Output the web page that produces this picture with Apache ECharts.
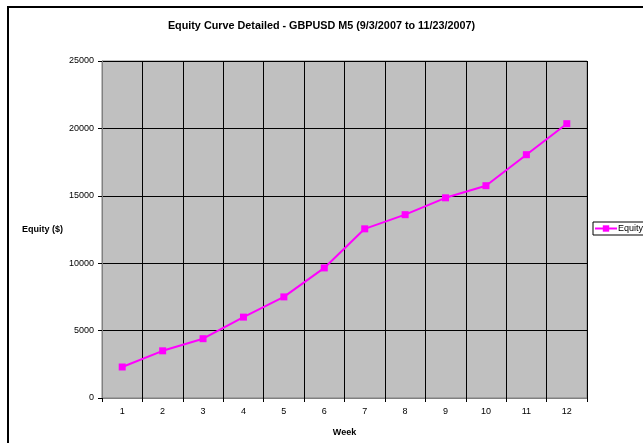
<!DOCTYPE html>
<html>
<head>
<meta charset="utf-8">
<script src="https://cdn.jsdelivr.net/npm/echarts@6/dist/echarts.min.js"></script>
<style>
  html, body { margin: 0; padding: 0; background: #fff; }
  #equityChart { width: 643px; height: 443px; }
</style>
</head>
<body>
<div id="equityChart"></div>
<script>
// weeks and equity values
const weeks = ['1', '2', '3', '4', '5', '6', '7', '8', '9', '10', '11', '12'];
const equity = [2300, 3500, 4400, 6000, 7500, 9650, 12550, 13600, 14850, 15750, 18050, 20350];
const yTicks = [0, 5000, 10000, 15000, 20000, 25000];

const chart = echarts.init(document.getElementById('equityChart'));
const font = 'Liberation Sans, Arial, sans-serif';

const option = {
    backgroundColor: '#fff',
    animation: false,
    textStyle: { fontFamily: font },
    title: {
        text: 'Equity Curve Detailed - GBPUSD M5 (9/3/2007 to 11/23/2007)',
        left: 'center',
        top: 16,
        textStyle: { fontSize: 10.8, fontWeight: 'bold', color: '#000', fontFamily: font }
    },
    graphic: [{
        type: 'rect',
        shape: { x: 8, y: 7, width: 700, height: 500 },
        style: { fill: 'none', stroke: '#000', lineWidth: 2 },
        silent: true
    }],
    legend: {
        left: 593,
        top: 222,
        orient: 'vertical',
        padding: [2, 4, 2, 1],
        itemGap: 0,
        itemWidth: 22,
        itemHeight: 8,
        backgroundColor: '#fff',
        borderColor: '#000',
        borderWidth: 1,
        borderRadius: 0,
        textStyle: { fontSize: 9, color: '#000', fontFamily: font, padding: [0, 0, 0, -4] },
        data: ['Equity']
    },
    grid: {
        left: 102,
        right: 56,
        top: 61,
        bottom: 45,
        show: true,
        backgroundColor: '#C0C0C0',
        borderColor: '#808080',
        borderWidth: 1
    },
    xAxis: {
        type: 'category',
        data: weeks,
        boundaryGap: true,
        name: 'Week',
        nameLocation: 'middle',
        nameGap: 30,
        nameTextStyle: { fontSize: 9, fontWeight: 'bold', color: '#000' },
        axisLine: { lineStyle: { color: '#808080', width: 1 } },
        axisTick: { show: true, length: 4, lineStyle: { color: '#000' } },
        axisLabel: { fontSize: 9, color: '#000', margin: 9 },
        splitLine: { show: true, lineStyle: { color: '#000', width: 1 } }
    },
    yAxis: {
        type: 'value',
        min: yTicks[0],
        max: yTicks[yTicks.length - 1],
        interval: 5000,
        name: 'Equity ($)',
        nameLocation: 'middle',
        nameRotate: 0,
        nameGap: 38,
        nameTextStyle: { fontSize: 9, fontWeight: 'bold', color: '#000' },
        axisLine: { show: true, lineStyle: { color: '#808080', width: 1 } },
        axisTick: { show: true, length: 4, lineStyle: { color: '#000' } },
        axisLabel: { fontSize: 9, color: '#000', margin: 8, formatter: v => String(v) },
        splitLine: { show: true, lineStyle: { color: '#000', width: 1 } }
    },
    series: [{
        name: 'Equity',
        type: 'line',
        data: equity,
        symbol: 'rect',
        symbolSize: 7,
        lineStyle: { color: '#FF00FF', width: 2 },
        itemStyle: { color: '#FF00FF' }
    }]
};
chart.setOption(option);
</script>
</body>
</html>
